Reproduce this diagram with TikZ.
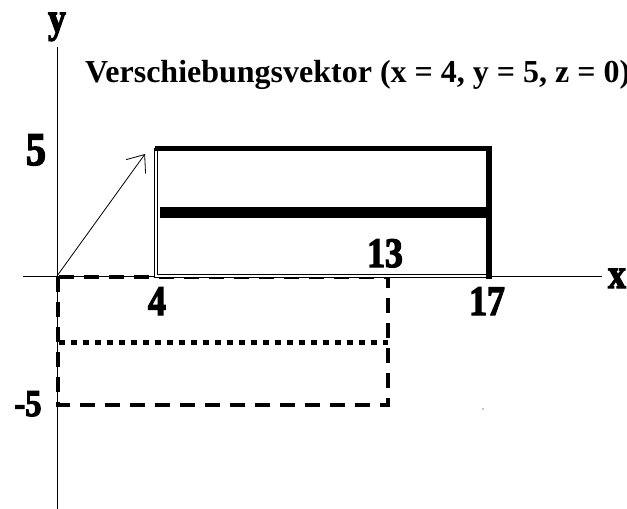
\documentclass[tikz,border=0pt]{standalone}
\usepackage{fontspec}
\setmainfont{Liberation Serif}
\newfontfamily\lblfont{Liberation Serif Bold}[FakeStretch=0.85, FakeBold=3]
\usetikzlibrary{arrows.meta}
\begin{document}
\begin{tikzpicture}[x=1pt,y=-1pt,
  lbl/.style={font=\lblfont\fontsize{42}{42}\selectfont, inner sep=0pt, anchor=base},
  titlestyle/.style={font=\bfseries\fontsize{32}{34}\selectfont, inner sep=0pt, anchor=base west},
  axisline/.style={line width=0.9pt},
  longdash/.style={line width=3.8pt, dash pattern=on 15pt off 10pt},
  shortdash/.style={line width=5pt, dash pattern=on 6pt off 6pt},
  dbl/.style={draw=black, double=white, line width=1.3pt, double distance=2pt},
  vec/.style={line width=0.8pt, -{Straight Barb[length=15pt,width=24pt]}}]
\useasboundingbox (0,0) rectangle (627,509);
\clip (0,0) rectangle (627,509);
% axes
\coordinate (ytop) at (57,47);
\coordinate (ybot) at (57,509);
\coordinate (xleft) at (23,276);
\coordinate (xright) at (602,276);
\coordinate (O) at (57,276);
\draw[axisline] (ytop) -- (ybot);
\draw[axisline] (xleft) -- (xright);
% original rectangle (dashed)
\coordinate (A1) at (58,277);
\coordinate (A2) at (388,405);
\draw[longdash] (A1) rectangle (A2);
\coordinate (M1) at (59,342);
\coordinate (M2) at (388,342);
\draw[shortdash] (M1) -- (M2);
% translated rectangle
\coordinate (B1) at (156,148);
\coordinate (B0) at (156,276);
\coordinate (B2) at (488,276);
\draw[dbl] (B1) -- (B0) -- (B2);
\coordinate (T1) at (155,148.3);
\coordinate (T2) at (491.5,148.3);
\draw[line width=5pt] (T1) -- (T2);
\coordinate (R1) at (488.7,146) ;
\coordinate (R2) at (488.7,278.5);
\draw[line width=6pt] (R1) -- (R2);
\coordinate (C1) at (159.5,212.7);
\coordinate (C2) at (486,212.7);
\draw[line width=11pt] (C1) -- (C2);
% vector
\coordinate (V) at (145,154);
\draw[vec] (O) -- (V);
% small mark
\fill (483,409) circle (0.6pt);
% labels
\node[lbl] (ly) at (57,32) {y};
\node[lbl] (lx) at (617,288) {x};
\node[lbl, font=\lblfont\fontsize{47}{47}\selectfont] (l5) at (36,165) {5};
\node[lbl, font=\lblfont\fontsize{38}{38}\selectfont] (lm5) at (28,416) {-5};
\node[lbl] (l4) at (157,315) {4};
\node[lbl] (l13) at (385,267) {13};
\node[lbl] (l17) at (487,315) {17};
\node[titlestyle] (title) at (85,82) {Verschiebungsvektor (x = 4, y = 5, z = 0)};
\end{tikzpicture}
\end{document}
